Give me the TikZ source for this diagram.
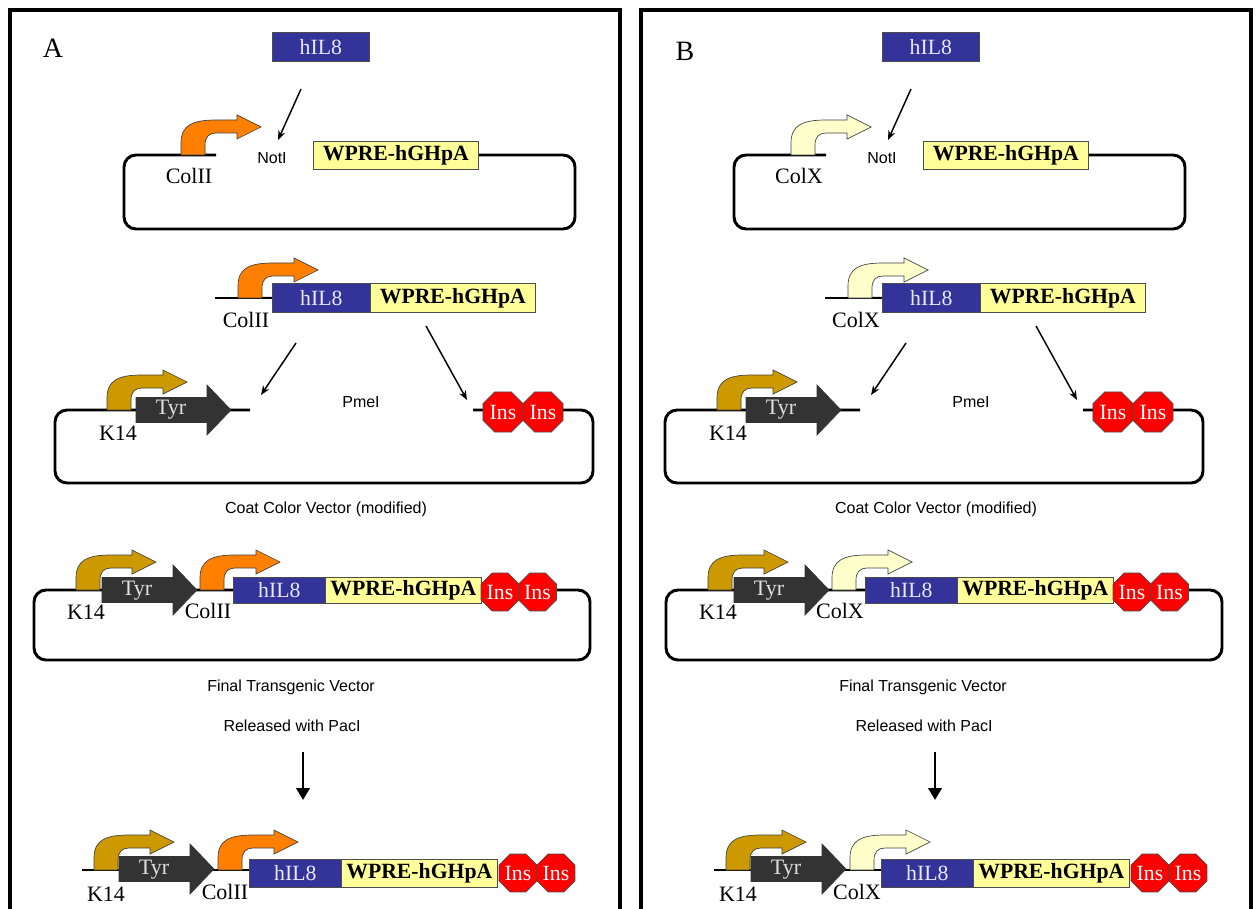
\documentclass[tikz,border=0pt]{standalone}
\usepackage{fontspec}
\setmainfont{Liberation Serif}
\newfontfamily\arialf{Liberation Sans}
\usetikzlibrary{shapes.geometric, arrows.meta}
\definecolor{ilblue}{HTML}{333399}
\definecolor{iltext}{HTML}{E8E8FF}
\definecolor{wyellow}{HTML}{FFFF99}
\definecolor{promorange}{HTML}{FF8000}
\definecolor{promgold}{HTML}{CC9900}
\definecolor{prompale}{HTML}{FFFFCC}
\definecolor{tyrgray}{HTML}{333333}
\definecolor{tyrtext}{HTML}{E0E0E0}
\definecolor{insred}{HTML}{FF0000}
\tikzset{
  promoter/.pic={\filldraw[draw=black!75, line width=0.5pt, pic actions] (0,0) -- (0,-12) .. controls (0,-30) and (12,-35) .. (35,-35) -- (56,-35) -- (56,-40) -- (80,-28) -- (56,-16) -- (56,-22) -- (35,-22) .. controls (28,-22) and (24,-18) .. (24,-10) -- (24,0) -- cycle;},
  tyrarrow/.pic={\filldraw[fill=tyrgray, draw=black!80, line width=0.5pt] (0,-12.5) -- (71,-12.5) -- (71,-25) -- (95,0) -- (71,25) -- (71,12.5) -- (0,12.5) -- cycle;},
  frame/.style={line width=2.3pt},
  plasmid/.style={line width=2.2pt, rounded corners=9pt},
  dna/.style={line width=1.4pt},
  gene/.style={draw=black!70, line width=0.5pt, inner sep=0pt, anchor=north west},
  hil/.style={gene, fill=ilblue, text=iltext, font=\fontsize{16.3}{18}\selectfont},
  wpre/.style={gene, fill=wyellow, font=\bfseries\fontsize{16.3}{18}\selectfont},
  ins/.style={regular polygon, regular polygon sides=8, fill=insred, draw=black!70, line width=0.5pt, inner sep=0pt, text=white, font=\fontsize{16.3}{18}\selectfont},
  lbl/.style={font=\fontsize{16.5}{18}\selectfont},
  tyrtxt/.style={text=tyrtext, font=\fontsize{16.5}{18}\selectfont},
  site/.style={font=\arialf\fontsize{12}{14}\selectfont},
  letter/.style={font=\fontsize{21}{24}\selectfont},
  thinarrow/.style={line width=1.1pt, -{Stealth[length=7pt,width=5.5pt]}},
  bigarrow/.style={line width=2.2pt, -{Triangle[length=9pt,width=10pt]}},
}
\newcommand\drawpanel[8]{%
  \draw[frame] (#8,10) rectangle ++(610,950);
  \begin{scope}[shift={(#2,0)}]
    \node[letter] (#1L) at (#7) {#6};
    % row 0
    \node[hil, minimum width=72.75pt, minimum height=21.75pt] (#1h0) at (272,32) {hIL8};
    \coordinate (#1s0) at (301,89); \coordinate (#1e0) at (278,140);
    \draw[thinarrow] (#1s0) -- (#1e0);
    % row 1
    \draw[plasmid] (216,155) -| (124,229) -| (575,155) -- (313,155);
    \pic[fill=#4] at (181,155) {promoter};
    \node[site] (#1not) at (272,158) {NotI};
    \node[wpre, minimum width=123.75pt, minimum height=21pt] (#1w1) at (313,141) {WPRE-hGHpA};
    \node[lbl] (#1p1) at (189,176) {#5};
    % row 2
    \coordinate (#1l2) at (215,298);
    \node[hil, minimum width=73.5pt, minimum height=21.75pt] (#1h2) at (272,283) {hIL8};
    \node[wpre, minimum width=123.75pt, minimum height=21.75pt] (#1w2) at (370,283) {WPRE-hGHpA};
    \draw[dna] (#1l2) -- (#1h2.west);
    \pic[fill=#4] at (238,298) {promoter};
    \node[lbl] (#1p2) at (246,320) {#5};
    \coordinate (#1s2a) at (296,343); \coordinate (#1e2a) at (261,395);
    \coordinate (#1s2b) at (426,326); \coordinate (#1e2b) at (467,400);
    \draw[thinarrow] (#1s2a) -- (#1e2a);
    \draw[thinarrow] (#1s2b) -- (#1e2b);
    \node[site] (#1pme) at (361,402) {PmeI};
    % coat colour vector
    \draw[plasmid] (250,410) -| (55,483) -| (593,410) -- (473,410);
    \pic[fill=promgold] at (107,410) {promoter};
    \pic at (136,410) {tyrarrow};
    \node[tyrtxt] (#1t2) at (171,410) {Tyr};
    \node[lbl] (#1k2) at (118,433) {K14};
    \node[ins, minimum size=32.5pt] (#1i2a) at (503,412) {Ins};
    \node[ins, minimum size=32.5pt] (#1i2b) at (543,412) {Ins};
    \node[site] (#1coat) at (326,509) {Coat Color Vector (modified)};
  \end{scope}
  \begin{scope}[shift={(#3,0)}]
    % final vector
    \draw[plasmid] (34,590) rectangle (590,660);
    \pic[fill=promgold] at (76,590) {promoter};
    \pic at (102,590) {tyrarrow};
    \node[tyrtxt] (#1t3) at (137,591) {Tyr};
    \node[lbl] (#1k3) at (86,612) {K14};
    \pic[fill=#4] at (200,590) {promoter};
    \node[lbl] (#1p3) at (208,611) {#5};
    \node[hil, minimum width=69pt, minimum height=19.5pt] (#1h3) at (233,577) {hIL8};
    \node[wpre, minimum width=117pt, minimum height=19.5pt] (#1w3) at (325,577) {WPRE-hGHpA};
    \node[ins, minimum size=30.8pt] (#1i3a) at (500,592) {Ins};
    \node[ins, minimum size=30.8pt] (#1i3b) at (537.5,592) {Ins};
    \node[site] (#1fin) at (291,687) {Final Transgenic Vector};
    \node[site] (#1rel) at (292,726) {Released with PacI};
    \coordinate (#1s4) at (303,752); \coordinate (#1e4) at (303,800);
    \draw[bigarrow] (#1s4) -- (#1e4);
    % released fragment
    \coordinate (#1l4) at (82,870);
    \node[hil, minimum width=69pt, minimum height=21pt] (#1h4) at (249,859) {hIL8};
    \node[wpre, minimum width=117pt, minimum height=21pt] (#1w4) at (341,859) {WPRE-hGHpA};
    \draw[dna] (#1l4) -- (#1h4.west |- #1l4);
    \pic[fill=promgold] at (94,870) {promoter};
    \pic at (119,869) {tyrarrow};
    \node[tyrtxt] (#1t4) at (154,870) {Tyr};
    \node[lbl] (#1k4) at (106,894) {K14};
    \pic[fill=#4] at (218,870) {promoter};
    \node[lbl] (#1p4) at (225,892) {#5};
    \node[ins, minimum size=30.8pt] (#1i4a) at (518,873) {Ins};
    \node[ins, minimum size=30.8pt] (#1i4b) at (556,873) {Ins};
  \end{scope}
}
\begin{document}
\begin{tikzpicture}[x=0.75pt, y=-0.75pt]
  \useasboundingbox (0,0) rectangle (1256,909);
  \clip (0,0) rectangle (1256,909);
  \fill[white] (0,0) rectangle (1256,909);
  \drawpanel{a}{0}{0}{promorange}{ColII}{A}{53,48}{10}
  \drawpanel{b}{610}{632}{prompale}{ColX}{B}{75,51}{641}
\end{tikzpicture}
\end{document}
